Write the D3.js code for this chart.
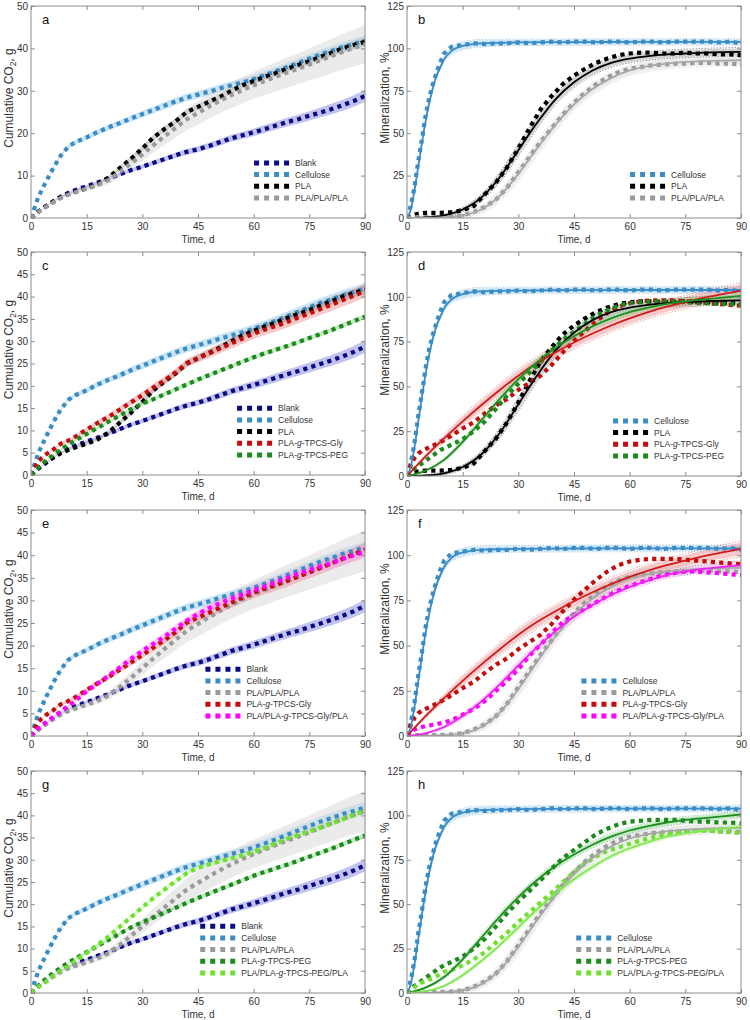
<!DOCTYPE html>
<html><head><meta charset="utf-8">
<script src="https://cdn.jsdelivr.net/npm/d3@7"></script>
<style>body{margin:0;background:#fff} svg{display:block} text{font-family:"Liberation Sans",Arial,sans-serif}</style>
</head><body><svg id="chart" width="750" height="1020"></svg>
<script>
// ---------------- DATA ----------------
const cumDays = [0,2,4,6,8,10,12,15,18,21,24,27,30,33,36,39,42,45,48,51,54,57,60,63,66,69,72,75,78,81,84,87,90];
const blankCum     = [0,1.5,2.7,3.9,5.0,5.9,6.6,7.5,8.4,9.3,10.3,11.3,12.1,13.0,13.9,14.8,15.6,16.2,17.0,17.9,18.8,19.5,20.2,21.0,21.8,22.6,23.3,24.1,24.9,25.7,26.6,27.6,28.8];
const celluloseCum = [0,5,8.5,11.8,14.7,16.8,17.9,19.0,20.3,21.4,22.4,23.5,24.5,25.5,26.5,27.5,28.4,29.1,29.8,30.6,31.3,32.0,32.8,33.7,34.6,35.6,36.6,37.6,38.6,39.4,40.3,41.0,41.8];
const plaCum       = [0,1.5,2.8,3.9,4.9,5.6,6.2,7.0,8.0,9.6,11.8,14.0,16.4,19.0,21.0,22.8,25.0,26.2,27.4,28.6,30.0,31.3,32.3,33.3,34.2,35.2,36.1,37.0,38.0,39.0,40.0,40.8,41.6];
const pppCum       = [0,1.4,2.6,3.7,4.7,5.5,6.1,6.9,7.8,9.0,10.9,12.9,15.0,17.2,19.3,21.3,23.3,24.8,26.3,27.7,29.0,30.2,31.3,32.3,33.3,34.3,35.2,36.2,37.2,38.2,39.2,40.1,41.0];
const glyCum       = [0,3.2,4.6,5.7,7.0,7.7,8.6,10.2,11.7,13.1,14.7,16.3,17.9,19.6,21.2,23.0,25.1,26.2,27.3,28.4,29.5,30.6,31.7,32.6,33.4,34.3,35.3,36.2,37.2,38.2,39.2,40.2,41.3];
const pegCum       = [0,1.7,3.2,4.5,5.7,6.8,7.8,9.2,10.6,12.0,13.4,14.8,16.0,17.0,18.1,19.2,20.3,21.4,22.4,23.4,24.4,25.4,26.4,27.3,28.1,28.9,29.8,30.7,31.6,32.5,33.5,34.5,35.5];
const pgpCum       = [0,1.7,3.0,4.2,5.4,6.6,7.8,9.9,11.6,13.4,15.2,17.1,18.8,20.4,22.0,23.8,25.5,27.0,28.3,29.4,30.4,31.3,32.2,33.1,34.0,35.0,35.9,36.7,37.5,38.3,39.2,40.0,40.8];
const pepCum       = [0,1.4,2.5,3.9,5.0,6.0,7.2,9.0,10.9,12.8,15.0,17.1,19.3,21.4,23.3,25.2,27.0,28.2,29.0,29.7,30.3,31.0,31.8,32.7,33.7,34.7,35.6,36.4,37.3,38.2,39.1,40.1,41.2];

const minDays = [0,1,2,3,4,5,6,7,8,9,10,12,15,18,21,24,27,30,33,36,39,42,45,48,51,54,57,60,63,66,69,72,75,78,81,84,87,90];
const celluloseMin = [0,7,18,33,46,60,71,79,86,92,97,101,102,103,102.5,103,103,103.5,103,103.5,104,103.5,104,104,103.5,104,104,103.5,104,104,103.5,104,104,104,104,103.5,104,103];
const plaMin       = [0,1,2,2.5,2.8,3,3,3,3,3,3.2,3.5,4.5,7,14,21,30,41,53,64,72,79,84,88,91.5,94,96,97,97.5,97.5,97,97,97.5,97,97,96.5,96.5,96];
const pppMin       = [0,0.3,0.5,0.5,0.5,0.5,0.5,0.5,0.6,0.6,0.7,0.8,1.5,3.5,6.5,11,18,27,36,45,53,61,68,74,79,83,86,88,89,90,90.5,91,91,91.5,91.5,91,91,90.5];
const glyMin       = [0,6,10,12.5,14,15,16,17,18,19,20,22.5,26.5,30,35,39.5,43,48,52,56,62,69,75.5,81,86.5,91,94.5,96.5,97.5,98,98,98,97.5,97,96.5,96,95.5,95];
const pegMin       = [0,2.5,4,5.5,7,8.5,10,11.5,13,14.5,15.5,17.5,20.5,25,30.5,37.5,45,51.5,57.5,63.5,70,76,80.5,85,89.5,92.5,95,96.5,97,97.5,97.5,97.5,97,96.5,96.5,96,96,95.5];
const pgpMin       = [0,2,3.5,4.5,5,5.5,5.8,6.2,6.5,7,7.5,8.7,11.8,15,19.5,25,30.5,37,44.5,50.5,57,63,67,70.5,74,77.5,80.5,83,85,87,89,90,91,91,90.5,90,89.5,89];
const pepMin       = [0,1.5,3,5,6,6.5,7.5,8.5,9.5,11,12,13,15.5,19,23,28.5,34,40,45.5,51,56.5,62.5,68,73,77,80,82,84,86,87.5,89,90,91,91.5,91.5,91,90.5,90];

// fitted model curves
const fitDays = [0,5,10,15,20,25,30,35,40,45,50,55,60,65,70,75,80,85,90];
const plaFit = [0,0.3,1.5,5,12,24,40,56,70,80,87,91.5,94,95.5,96.5,97,97.5,97.8,98];
const pppFit = [0,0.1,0.5,1.5,5,13,26,41,55,67,76,82.5,87,89.5,91,92,92.5,92.8,93];
const glyFit = [0,11,21,30.5,39.5,48,56,63,69,74.5,79.5,84,88,91.5,94.5,97,99.5,101.5,103.5];
const pegFit = [0,3,9,19,31,43,54,63.5,71.5,78,83.5,88,91.5,94,96,97.5,98.5,99.5,100.5];
const pgpFit = [0,1.5,5,11,19,28.5,39,49,58,66,72.5,78,82.5,86,89,91,92.5,93.5,94.5];
const pepFit = [0,1,4,10,18,27,37,47,56,64,71,77,81.5,85,88,90,91.5,92.5,93.5];
const cellFitDays = [0,1,2,3,4,5,6,7,8,9,10,12,15,20,30,45,60,75,90];
const celluloseFit = [0,5,16,30,44,57,68,77,84,89,93.5,98.5,101.5,103,103.5,103.7,103.8,103.8,103.8];

// uncertainty half-widths
const bandDays = [0,15,30,45,60,75,90];
const blankCumSd = [0,0.3,0.5,0.7,0.9,1.1,1.4];
const celluloseCumSd = [0,0.6,0.8,0.9,1.0,1.1,1.3];
const plaCumSd = [0,0.3,0.6,0.7,0.8,0.9,1.0];
const pppCumSd = [0,0.5,1.5,2.8,3.2,3.8,4.5];
const glyCumSd = [0,0.5,0.8,1.0,1.2,1.3,1.5];
const pegCumSd = [0,0.3,0.4,0.5,0.5,0.5,0.6];
const pgpCumSd = [0,0.5,0.8,1.0,1.2,1.3,1.5];
const pepCumSd = [0,0.3,0.4,0.5,0.6,0.6,0.7];
const celluloseFitSd = [0,2,1.5,1.5,1.5,1.5,1.5];
const plaFitSd = [0,1,3,2.5,2,2,2];
const pppFitSd = [0,1,3.5,3,2.5,2.5,2.5];
const glyFitSd = [0,2.5,3,3,3,3,3.5];
const pegFitSd = [0,1.2,1.5,1.5,1.5,1.5,1.5];
const pgpFitSd = [0,1,2,2,1.5,1.5,2];
const pepFitSd = [0,0.8,1.2,1.2,1,1,1];

const xTicks = [0,15,30,45,60,75,90];

// ---------------- SERIES TABLE ----------------
const S = {
  blank:{label:'Blank', color:'#0a0a84', band:'#7878da', cum:blankCum, cumSd:blankCumSd},
  cellulose:{label:'Cellulose', color:'#3a8cc4', band:'#8cc6ea', fitColor:'#3a8cc8', cum:celluloseCum, cumSd:celluloseCumSd, min:celluloseMin, fitX:cellFitDays, fit:celluloseFit, fitSd:celluloseFitSd},
  pla:{label:'PLA', color:'#000000', band:'#9a9a9a', fitColor:'#000000', cum:plaCum, cumSd:plaCumSd, min:plaMin, fitX:fitDays, fit:plaFit, fitSd:plaFitSd},
  ppp:{label:'PLA/PLA/PLA', color:'#9a9a9a', band:'#d2d2d2', fitColor:'#a8a8a8', cum:pppCum, cumSd:pppCumSd, min:pppMin, fitX:fitDays, fit:pppFit, fitSd:pppFitSd},
  gly:{label:'PLA-g-TPCS-Gly', color:'#c40c0c', band:'#ea8a8a', fitColor:'#d01c1c', cum:glyCum, cumSd:glyCumSd, min:glyMin, fitX:fitDays, fit:glyFit, fitSd:glyFitSd},
  peg:{label:'PLA-g-TPCS-PEG', color:'#1c8a1c', band:'#86cf86', fitColor:'#1e8e1e', cum:pegCum, cumSd:pegCumSd, min:pegMin, fitX:fitDays, fit:pegFit, fitSd:pegFitSd},
  pgp:{label:'PLA/PLA-g-TPCS-Gly/PLA', color:'#ff00ff', band:'#f6a6f6', fitColor:'#f020f0', cum:pgpCum, cumSd:pgpCumSd, min:pgpMin, fitX:fitDays, fit:pgpFit, fitSd:pgpFitSd},
  pep:{label:'PLA/PLA-g-TPCS-PEG/PLA', color:'#70e030', band:'#b8f090', fitColor:'#80e850', cum:pepCum, cumSd:pepCumSd, min:pepMin, fitX:fitDays, fit:pepFit, fitSd:pepFitSd}
};

const panels = [
 {id:'a', kind:'cum', x:31, y:6,   w:334, h:212, yMax:50, yStep:10, keys:['blank','cellulose','pla','ppp']},
 {id:'b', kind:'min', x:407,y:6,   w:334, h:212, yMax:125,yStep:25, keys:['cellulose','pla','ppp']},
 {id:'c', kind:'cum', x:31, y:252, w:334, h:223, yMax:50, yStep:5,  keys:['blank','cellulose','pla','gly','peg']},
 {id:'d', kind:'min', x:407,y:252, w:334, h:224, yMax:125,yStep:25, keys:['cellulose','pla','gly','peg']},
 {id:'e', kind:'cum', x:31, y:510, w:334, h:226, yMax:50, yStep:5,  keys:['blank','cellulose','ppp','gly','pgp']},
 {id:'f', kind:'min', x:407,y:510, w:334, h:226, yMax:125,yStep:25, keys:['cellulose','ppp','gly','pgp']},
 {id:'g', kind:'cum', x:31, y:771, w:334, h:222, yMax:50, yStep:5,  keys:['blank','cellulose','ppp','peg','pep']},
 {id:'h', kind:'min', x:407,y:771, w:334, h:222, yMax:125,yStep:25, keys:['cellulose','ppp','peg','pep']}
];

// ---------------- DRAW ----------------
const svg = d3.select('#chart');
const FONT = '"Liberation Sans", Arial, sans-serif';
const AX = '#8c8c8c';

function addLabel(sel, label){
  const parts = label.split('-g-');
  if (parts.length === 1) { sel.text(label); return; }
  sel.append('tspan').text(parts[0] + '-');
  sel.append('tspan').attr('font-style','italic').text('g');
  sel.append('tspan').text('-' + parts[1]);
}

panels.forEach(p => {
  const x = d3.scaleLinear().domain([0,90]).range([0,p.w]);
  const y = d3.scaleLinear().domain([0,p.yMax]).range([p.h,0]);
  const g = svg.append('g').attr('transform',`translate(${p.x},${p.y})`);
  g.append('clipPath').attr('id','clip'+p.id).append('rect').attr('width',p.w).attr('height',p.h);
  const plot = g.append('g').attr('clip-path',`url(#clip${p.id})`);

  const line = d3.line().x(d=>x(d[0])).y(d=>y(d[1]));
  const smooth = d3.line().x(d=>x(d[0])).y(d=>y(d[1])).curve(d3.curveMonotoneX);
  const area = d3.area().x(d=>x(d[0])).y0(d=>y(d[1]-d[2])).y1(d=>y(d[1]+d[2]));
  const areaS = d3.area().x(d=>x(d[0])).y0(d=>y(d[1]-d[2])).y1(d=>y(d[1]+d[2])).curve(d3.curveMonotoneX);

  if (p.kind === 'cum') {
    p.keys.forEach(k => {
      const s = S[k];
      const sd = d3.scaleLinear().domain(bandDays).range(s.cumSd);
      const pts = cumDays.map((d,i)=>[d, s.cum[i], sd(d)]);
      plot.append('path').attr('d', area(pts)).attr('fill', s.band).attr('fill-opacity', 0.45);
    });
    p.keys.forEach(k => {
      const s = S[k];
      const pts = cumDays.map((d,i)=>[d, s.cum[i]]);
      plot.append('path').attr('d', line(pts)).attr('fill','none').attr('stroke', s.color)
        .attr('stroke-width',4.2).attr('stroke-dasharray','4.2,4.2');
    });
  } else {
    p.keys.forEach(k => {
      const s = S[k];
      const sd = d3.scaleLinear().domain(bandDays).range(s.fitSd);
      const pts = s.fitX.map((d,i)=>[d, s.fit[i], sd(d)]);
      plot.append('path').attr('d', areaS(pts)).attr('fill', s.band).attr('fill-opacity', 0.45);
      [1.25,-1.25].forEach(m => {
        plot.append('path').attr('d', smooth(pts.map(q=>[q[0], q[1]+m*q[2]])))
          .attr('fill','none').attr('stroke', s.fitColor).attr('stroke-opacity',0.6)
          .attr('stroke-width',0.7).attr('stroke-dasharray','1.5,1.5');
      });
    });
    p.keys.forEach(k => {
      const s = S[k];
      const pts = minDays.map((d,i)=>[d, s.min[i]]);
      plot.append('path').attr('d', line(pts)).attr('fill','none').attr('stroke', s.color)
        .attr('stroke-width',4.2).attr('stroke-dasharray','4.2,4.2');
    });
    p.keys.forEach(k => {
      const s = S[k];
      const pts = s.fitX.map((d,i)=>[d, s.fit[i]]);
      plot.append('path').attr('d', smooth(pts)).attr('fill','none').attr('stroke', s.fitColor)
        .attr('stroke-width',1.8);
    });
  }

  // frame + axes
  const yTicks = d3.range(0, p.yMax + 0.001, p.yStep);
  const styleAxis = a => {
    a.select('.domain').remove();
    a.selectAll('line').attr('stroke', AX);
    a.selectAll('text').attr('fill','#333').attr('font-size',10).attr('font-family',FONT);
    a.attr('font-family',FONT);
  };
  g.append('g').attr('transform',`translate(0,${p.h})`)
    .call(d3.axisBottom(x).tickValues(xTicks).tickSizeInner(-4).tickSizeOuter(0).tickPadding(5)).call(styleAxis);
  g.append('g').call(d3.axisTop(x).tickValues(xTicks).tickSizeInner(-4).tickSizeOuter(0).tickFormat('')).call(styleAxis);
  g.append('g').call(d3.axisLeft(y).tickValues(yTicks).tickSizeInner(-4).tickSizeOuter(0).tickPadding(3)).call(styleAxis);
  g.append('g').attr('transform',`translate(${p.w},0)`)
    .call(d3.axisRight(y).tickValues(yTicks).tickSizeInner(-4).tickSizeOuter(0).tickFormat('')).call(styleAxis);
  g.append('rect').attr('width',p.w).attr('height',p.h).attr('fill','none').attr('stroke',AX).attr('stroke-width',1);

  // titles
  g.append('text').attr('x',p.w/2).attr('y',p.h+25).attr('text-anchor','middle')
    .attr('font-size',10).attr('fill','#333').text('Time, d');
  const yl = g.append('text').attr('transform',`translate(${-18.5},${p.h/2 - 14}) rotate(-90)`)
    .attr('text-anchor','middle').attr('font-size',12).attr('fill','#333');
  if (p.kind === 'cum') {
    yl.append('tspan').text('Cumulative CO');
    yl.append('tspan').attr('font-size',8.5).attr('dy',3).text('2');
    yl.append('tspan').attr('dy',-3).text(', g');
  } else {
    yl.text('Mineralization, %');
  }
  g.append('text').attr('x',11).attr('y',18).attr('font-size',13).attr('fill','#111').text(p.id);

  // legend
  const lg = g.append('g');
  const sp = 11.7;
  const n = p.keys.length;
  const texts = p.keys.map((k,i)=>{
    const t = lg.append('text').attr('font-size',8.5).attr('fill','#333')
      .attr('y', p.h - 20 - (n-1-i)*sp).attr('dy','0.35em');
    addLabel(t, S[k].label);
    return t;
  });
  const maxW = d3.max(texts, t => t.node().getComputedTextLength());
  const tx = p.w - 17 - maxW;
  texts.forEach(t => t.attr('x', tx));
  p.keys.forEach((k,i)=>{
    const yy = p.h - 20 - (n-1-i)*sp;
    lg.append('line').attr('x1',tx-41).attr('x2',tx-6).attr('y1',yy).attr('y2',yy)
      .attr('stroke',S[k].color).attr('stroke-width',5).attr('stroke-dasharray','5,5');
  });
});
</script></body></html>
